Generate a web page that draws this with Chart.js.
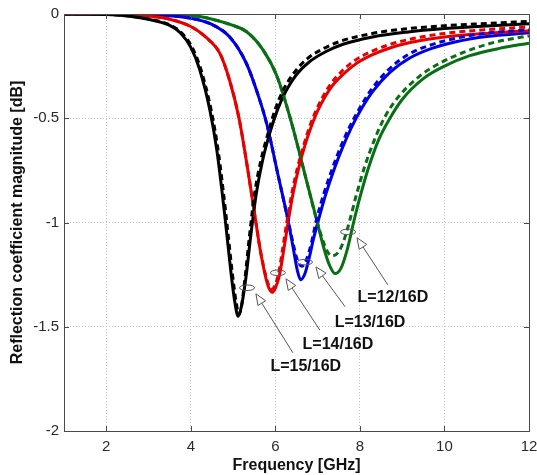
<!DOCTYPE html>
<html>
<head>
<meta charset="utf-8">
<script src="https://cdn.jsdelivr.net/npm/chart.js@4"></script>
<style>
  html, body { margin: 0; padding: 0; background: #fff; }
  #wrap { width: 537px; height: 475px; }
</style>
</head>
<body>
<div id="wrap"><canvas id="grafico"></canvas></div>
<script>
// tick labels
const xTicks = [2, 4, 6, 8, 10, 12];
const yTicks = [0, -0.5, -1, -1.5, -2];

// L=15/16D  (black)
const fBlack = [1, 2, 3, 3.5, 3.75, 4, 4.2, 4.45, 4.62, 4.8, 4.95, 5.04, 5.12, 5.2, 5.3, 5.42, 5.55, 5.7, 5.87, 6.05, 6.25, 6.5, 6.8, 7.2, 7.6, 8.3, 9.1, 10, 11, 12];
const black  = [0, -0.002, -0.025, -0.055, -0.09, -0.16, -0.26, -0.46, -0.66, -0.96, -1.24, -1.38, -1.45, -1.4, -1.27, -1.06, -0.86, -0.7, -0.57, -0.46, -0.37, -0.29, -0.23, -0.18, -0.145, -0.11, -0.087, -0.07, -0.057, -0.047];
const fBlackD = [1, 2, 3, 3.5, 3.78, 4.03, 4.23, 4.48, 4.65, 4.83, 4.98, 5.07, 5.14, 5.2, 5.28, 5.39, 5.51, 5.66, 5.83, 6.0, 6.2, 6.45, 6.75, 7.15, 7.55, 8.25, 9.05, 10, 11, 12];
const blackD  = [0, -0.002, -0.024, -0.052, -0.09, -0.16, -0.26, -0.46, -0.66, -0.96, -1.24, -1.38, -1.44, -1.4, -1.27, -1.06, -0.86, -0.7, -0.57, -0.455, -0.36, -0.28, -0.215, -0.165, -0.13, -0.095, -0.072, -0.056, -0.045, -0.035];

// L=14/16D  (red)
const fRed = [1, 2, 3, 3.5, 4, 4.35, 4.69, 4.92, 5.14, 5.35, 5.51, 5.65, 5.78, 5.86, 5.93, 6.0, 6.1, 6.2, 6.3, 6.42, 6.55, 6.7, 6.85, 7.0, 7.29, 7.6, 7.93, 8.3, 8.71, 9.19, 10, 11, 12];
const red  = [0, -0.001, -0.01, -0.025, -0.06, -0.11, -0.19, -0.32, -0.5, -0.75, -0.96, -1.14, -1.27, -1.32, -1.335, -1.315, -1.25, -1.13, -1.0, -0.86, -0.74, -0.63, -0.54, -0.465, -0.36, -0.29, -0.235, -0.195, -0.163, -0.137, -0.11, -0.093, -0.08];
const fRedD = [1, 2, 3, 3.5, 4, 4.35, 4.69, 4.92, 5.14, 5.35, 5.51, 5.65, 5.78, 5.86, 5.92, 5.98, 6.07, 6.17, 6.27, 6.39, 6.52, 6.67, 6.82, 6.97, 7.26, 7.57, 7.9, 8.27, 8.68, 9.16, 10, 11, 12];
const redD  = [0, -0.001, -0.01, -0.025, -0.06, -0.11, -0.19, -0.32, -0.5, -0.75, -0.96, -1.14, -1.26, -1.31, -1.32, -1.305, -1.25, -1.13, -1.0, -0.86, -0.74, -0.63, -0.535, -0.46, -0.35, -0.275, -0.22, -0.18, -0.148, -0.122, -0.093, -0.075, -0.062];

// L=13/16D  (blue)
const fBlue = [1, 3, 4, 4.5, 4.92, 5.31, 5.61, 5.8, 6.05, 6.3, 6.42, 6.52, 6.6, 6.7, 6.8, 6.9, 7.03, 7.2, 7.4, 7.6, 7.81, 8.05, 8.31, 8.71, 9.19, 9.7, 10.3, 11, 12];
const blue  = [0, -0.003, -0.02, -0.05, -0.11, -0.235, -0.4, -0.53, -0.76, -0.99, -1.12, -1.23, -1.275, -1.245, -1.17, -1.08, -0.98, -0.86, -0.74, -0.635, -0.54, -0.45, -0.37, -0.28, -0.21, -0.165, -0.132, -0.108, -0.09];
const fBlueD = [1, 3, 4, 4.5, 4.92, 5.31, 5.61, 5.8, 6.05, 6.3, 6.42, 6.52, 6.63, 6.73, 6.85, 6.98, 7.15, 7.35, 7.55, 7.76, 8.0, 8.26, 8.66, 9.14, 9.65, 10.3, 11, 12];
const blueD  = [0, -0.003, -0.02, -0.05, -0.11, -0.235, -0.4, -0.53, -0.76, -0.99, -1.1, -1.18, -1.21, -1.18, -1.1, -0.98, -0.86, -0.74, -0.635, -0.54, -0.45, -0.365, -0.27, -0.195, -0.15, -0.115, -0.092, -0.075];

// L=12/16D  (green)
const fGreen = [1, 3, 4, 4.5, 5.0, 5.32, 5.7, 6.04, 6.38, 6.7, 6.98, 7.13, 7.27, 7.41, 7.55, 7.7, 7.85, 8.0, 8.2, 8.45, 8.71, 9.0, 9.5, 10, 10.6, 11.3, 12];
const green  = [0, -0.001, -0.006, -0.025, -0.055, -0.085, -0.17, -0.3, -0.52, -0.77, -0.99, -1.11, -1.2, -1.245, -1.22, -1.13, -1.0, -0.88, -0.74, -0.6, -0.5, -0.41, -0.31, -0.25, -0.2, -0.165, -0.14];
const fGreenD = [1, 3, 4, 4.5, 5.0, 5.32, 5.7, 6.04, 6.38, 6.7, 6.98, 7.13, 7.25, 7.35, 7.5, 7.63, 7.76, 7.9, 8.1, 8.35, 8.6, 8.9, 9.4, 9.9, 10.5, 11.2, 12];
const greenD  = [0, -0.001, -0.006, -0.025, -0.055, -0.085, -0.17, -0.3, -0.52, -0.77, -0.99, -1.09, -1.145, -1.16, -1.14, -1.08, -0.99, -0.88, -0.74, -0.6, -0.49, -0.4, -0.3, -0.235, -0.18, -0.135, -0.105];

// annotation labels, ellipse / arrow anchors in data units
const notes = [
  { text: "L=15/16D", ex: 5.33, ey: -1.313, tx: 6.415, ty: -1.625, hx: 5.54, hy: -1.342, lx: 6.72, ly: -1.692 },
  { text: "L=14/16D", ex: 6.06, ey: -1.241, tx: 7.05, ty: -1.515, hx: 6.25, hy: -1.27, lx: 7.48, ly: -1.587 },
  { text: "L=13/16D", ex: 6.70, ey: -1.19, tx: 7.65, ty: -1.404, hx: 6.96, hy: -1.213, lx: 8.24, ly: -1.481 },
  { text: "L=12/16D", ex: 7.72, ey: -1.045, tx: 8.66, ty: -1.299, hx: 7.93, hy: -1.073, lx: 8.78, ly: -1.361 }
];

const BLACK = "#000000", RED = "#e60000", BLUE = "#0000e0", GREEN = "#0a6e14";
const FONT = "'Liberation Sans', Arial, sans-serif";

function pts(xs, ys) {
  return xs.map(function (x, i) { return { x: x, y: ys[i] }; });
}

function serie(xs, ys, cor, tracejado) {
  return {
    data: pts(xs, ys),
    borderColor: cor,
    borderWidth: 3,
    borderDash: tracejado ? [6, 4] : [],
    pointRadius: 0,
    fill: false,
    cubicInterpolationMode: "monotone",
    order: tracejado ? 0 : 1
  };
}

// box, inner ticks and the L= annotations
const molduraPlugin = {
  id: "moldura",
  afterDraw: function (chart) {
    const ctx = chart.ctx;
    const a = chart.chartArea;
    const sx = chart.scales.x, sy = chart.scales.y;
    ctx.save();
    ctx.strokeStyle = "#4a4a4a";
    ctx.lineWidth = 1;
    ctx.strokeRect(Math.round(a.left) + 0.5, Math.round(a.top) + 0.5, Math.round(a.right - a.left), Math.round(a.bottom - a.top));
    ctx.beginPath();
    xTicks.forEach(function (v) {
      const px = Math.round(sx.getPixelForValue(v)) + 0.5;
      ctx.moveTo(px, a.bottom); ctx.lineTo(px, a.bottom - 5);
      ctx.moveTo(px, a.top); ctx.lineTo(px, a.top + 5);
    });
    yTicks.forEach(function (v) {
      const py = Math.round(sy.getPixelForValue(v)) + 0.5;
      ctx.moveTo(a.left, py); ctx.lineTo(a.left + 5, py);
      ctx.moveTo(a.right, py); ctx.lineTo(a.right - 5, py);
    });
    ctx.stroke();

    notes.forEach(function (n) {
      const ex = sx.getPixelForValue(n.ex), ey = sy.getPixelForValue(n.ey);
      const tx = sx.getPixelForValue(n.tx), ty = sy.getPixelForValue(n.ty);
      const hx = sx.getPixelForValue(n.hx), hy = sy.getPixelForValue(n.hy);
      ctx.strokeStyle = "#555";
      ctx.lineWidth = 1;
      ctx.beginPath();
      ctx.ellipse(ex, ey, 7.5, 2.8, 0, 0, Math.PI * 2);
      ctx.stroke();
      // arrow
      const ang = Math.atan2(hy - ty, hx - tx);
      const len = 11, w = 4.5;
      const bx = hx - Math.cos(ang) * len, by = hy - Math.sin(ang) * len;
      ctx.beginPath();
      ctx.moveTo(tx, ty); ctx.lineTo(bx, by);
      ctx.stroke();
      ctx.beginPath();
      ctx.moveTo(hx, hy);
      ctx.lineTo(bx + Math.sin(ang) * w, by - Math.cos(ang) * w);
      ctx.lineTo(bx - Math.sin(ang) * w, by + Math.cos(ang) * w);
      ctx.closePath();
      ctx.fillStyle = "#fff";
      ctx.fill();
      ctx.stroke();
      // label
      ctx.fillStyle = "#111";
      ctx.font = "bold 16px " + FONT;
      ctx.textAlign = "center";
      ctx.textBaseline = "middle";
      ctx.fillText(n.text, sx.getPixelForValue(n.lx), sy.getPixelForValue(n.ly));
    });
    ctx.restore();
  }
};

const ctx = document.getElementById("grafico").getContext("2d");
const myChart = new Chart(ctx, {
  type: "line",
  data: {
    datasets: [
      serie(fBlack, black, BLACK, false),
      serie(fBlackD, blackD, BLACK, true),
      serie(fRed, red, RED, false),
      serie(fRedD, redD, RED, true),
      serie(fBlue, blue, BLUE, false),
      serie(fBlueD, blueD, BLUE, true),
      serie(fGreen, green, GREEN, false),
      serie(fGreenD, greenD, GREEN, true)
    ]
  },
  options: {
    responsive: true,
    maintainAspectRatio: false,
    animation: false,
    layout: { padding: { left: 0, right: 8, top: 14, bottom: 0 } },
    plugins: { legend: { display: false }, tooltip: { enabled: false } },
    scales: {
      x: {
        type: "linear",
        min: 1,
        max: 12,
        afterBuildTicks: function (s) { s.ticks = xTicks.map(function (v) { return { value: v }; }); },
        afterFit: function (s) { s.height = 44; s.paddingRight = 0; s.paddingLeft = 0; },
        grid: { color: "#c4c4c4", lineWidth: 1, drawTicks: false },
        border: { display: false, dash: [1, 2] },
        ticks: { color: "#2a2a2a", padding: 7, maxRotation: 0, font: { family: FONT, size: 15 } },
        title: { display: true, text: "Frequency [GHz]", color: "#111", padding: { top: 0, bottom: 0 }, font: { family: FONT, size: 16, weight: "bold" } }
      },
      y: {
        type: "linear",
        min: -2,
        max: 0,
        afterBuildTicks: function (s) { s.ticks = yTicks.map(function (v) { return { value: v }; }); },
        afterFit: function (s) { s.width = 64; },
        grid: { color: "#c4c4c4", lineWidth: 1, drawTicks: false },
        border: { display: false, dash: [1, 2] },
        ticks: { color: "#2a2a2a", padding: 5, font: { family: FONT, size: 15 }, callback: function (v) { return String(v); } },
        title: { display: true, text: "Reflection coefficient magnitude [dB]", color: "#111", padding: { top: 8, bottom: 0 }, font: { family: FONT, size: 16, weight: "bold" } }
      }
    }
  },
  plugins: [molduraPlugin]
});
</script>
</body>
</html>
